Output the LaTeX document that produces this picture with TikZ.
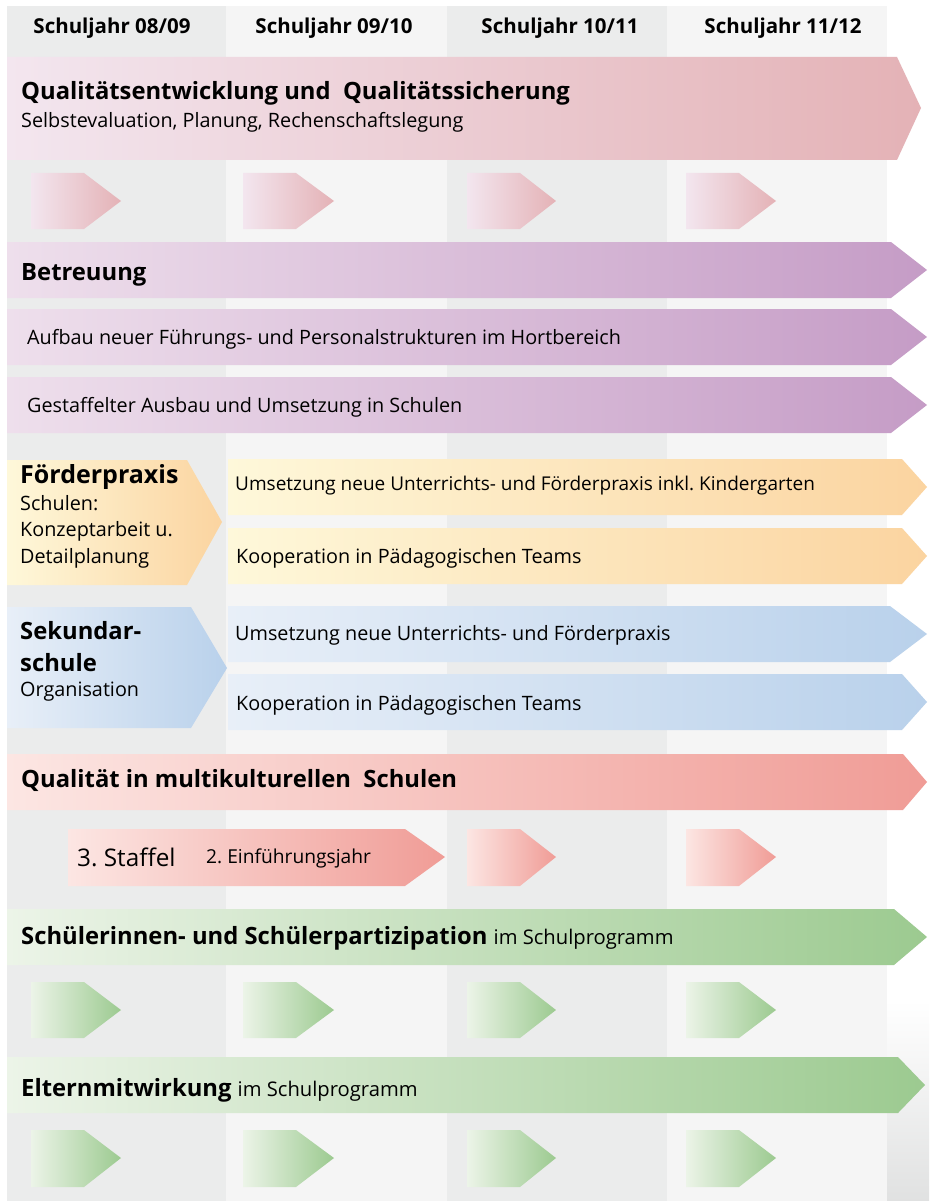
\documentclass[tikz,border=0pt]{standalone}
\usepackage{fontspec}
\setmainfont{Open Sans}
\frenchspacing
\definecolor{colA}{HTML}{EBECEC}
\definecolor{colB}{HTML}{F5F5F5}
\definecolor{pinkL}{HTML}{F3E6EF}
\definecolor{pinkR}{HTML}{E4B2B6}
\definecolor{purL}{HTML}{EEDFEC}
\definecolor{purR}{HTML}{C59CC6}
\definecolor{yelL}{HTML}{FEF8DA}
\definecolor{yelR}{HTML}{FBD4A0}
\definecolor{bluL}{HTML}{E8EFF8}
\definecolor{bluR}{HTML}{B9D1EB}
\definecolor{redL}{HTML}{FCE6E3}
\definecolor{redR}{HTML}{F09C96}
\definecolor{grnL}{HTML}{ECF4E8}
\definecolor{grnR}{HTML}{9CCA90}
% \arw{x1}{y1}{xbody}{xtip}{ymid}{y2}{left}{right}
\newcommand\arw[8]{\shade[left color=#7,right color=#8] (#1,#2) -- (#3,#2) -- (#4,#5) -- (#3,#6) -- (#1,#6) -- cycle;}
\tikzset{
  hdr/.style={font=\fontsize{20.5}{23}\selectfont\bfseries, anchor=center, inner sep=0pt},
  ttl/.style={font=\fontsize{23.8}{26}\selectfont\bfseries, anchor=west, inner sep=0pt},
  txt/.style={font=\fontsize{19.8}{22}\selectfont, anchor=west, inner sep=0pt},
}
\newcommand\reg{\mdseries\fontsize{20.2}{22}\selectfont}
\begin{document}
\begin{tikzpicture}[x=1pt,y=-1pt]
\useasboundingbox (0,0) rectangle (929,1201);
\fill[white] (0,0) rectangle (929,1201);
% columns
\fill[colA] (7,6) rectangle (226,1201);
\fill[colB] (226,6) rectangle (447,1201);
\fill[colA] (447,6) rectangle (667,1201);
\fill[colB] (667,6) rectangle (887,1201);
\shade[top color=white,bottom color=colA!90!gray] (887,1000) rectangle (929,1201);
% headers
\node[hdr] (h1) at (112,28) {Schuljahr 08/09};
\node[hdr] (h2) at (334,28) {Schuljahr 09/10};
\node[hdr] (h3) at (560,28) {Schuljahr 10/11};
\node[hdr] (h4) at (783,28) {Schuljahr 11/12};
% row 1 pink
\arw{7}{57}{897}{921}{108}{160}{pinkL}{pinkR}
\node[ttl] (q1) at (21,93) {Qualitätsentwicklung und\ \ Qualitätssicherung};
\node[txt] (q1s) at (21,122) {Selbstevaluation, Planung, Rechenschaftslegung};
\arw{31}{173}{84}{121}{201}{229}{pinkL}{pinkR}
\arw{243}{173}{296}{334}{201}{229}{pinkL}{pinkR}
\arw{467}{173}{520}{556}{201}{229}{pinkL}{pinkR}
\arw{686}{173}{739}{776}{201}{229}{pinkL}{pinkR}
% purple
\arw{7}{242}{891}{927}{270}{298}{purL}{purR}
\arw{7}{309}{891}{927}{337}{365}{purL}{purR}
\arw{7}{377}{891}{927}{405}{433}{purL}{purR}
\node[ttl] (b1) at (21,275) {Betreuung};
\node[txt] (b2) at (27,339) {Aufbau neuer Führungs- und Personalstrukturen im Hortbereich};
\node[txt] (b3) at (27,407) {Gestaffelter Ausbau und Umsetzung in Schulen};
% yellow
\arw{7}{460}{187}{222}{522}{585}{yelL}{yelR}
\arw{228}{459}{902}{927}{487}{515}{yelL}{yelR}
\arw{228}{528}{902}{927}{556}{584}{yelL}{yelR}
\node[ttl,font=\fontsize{25}{27}\selectfont\bfseries] (f0) at (20,477) {Förderpraxis};
\node[txt] (f1) at (20,503) {Schulen:};
\node[txt] (f2) at (20,531) {Konzeptarbeit u.};
\node[txt] (f3) at (20,558) {Detailplanung};
\node[txt,font=\fontsize{19}{22}\selectfont] (f4) at (235,486) {Umsetzung neue Unterrichts- und Förderpraxis inkl. Kindergarten};
\node[txt] (f5) at (236,558) {Kooperation in Pädagogischen Teams};
% blue
\arw{7}{607}{191}{227}{668}{728}{bluL}{bluR}
\arw{228}{606}{890}{927}{634}{662}{bluL}{bluR}
\arw{228}{674}{902}{927}{702}{730}{bluL}{bluR}
\node[ttl] (s0) at (20,631) {Sekundar-};
\node[ttl] (s1) at (20,663) {schule};
\node[txt] (s2) at (20,692) {Organisation};
\node[txt] (s3) at (235,635) {Umsetzung neue Unterrichts- und Förderpraxis};
\node[txt] (s4) at (236,705) {Kooperation in Pädagogischen Teams};
% red
\arw{7}{754}{903}{927}{782}{810}{redL}{redR}
\node[ttl] (m0) at (21,780) {Qualität in multikulturellen\ \ Schulen};
\arw{68}{829}{405}{445}{857}{886}{redL}{redR}
\node[font=\fontsize{24.3}{26}\selectfont, anchor=west, inner sep=0pt] (m1) at (77,857) {3. Staffel};
\node[font=\fontsize{19.2}{21}\selectfont, anchor=west, inner sep=0pt] (m2) at (206,858) {2. Einführungsjahr};
\arw{467}{829}{520}{556}{857}{886}{redL}{redR}
\arw{686}{829}{739}{776}{857}{886}{redL}{redR}
% green
\arw{7}{909}{894}{927}{937}{965}{grnL}{grnR}
\node[ttl] (g0) at (21,938) {Schülerinnen- und Schülerpartizipation \reg im Schulprogramm};
\arw{31}{982}{84}{121}{1010}{1038}{grnL}{grnR}
\arw{243}{982}{296}{334}{1010}{1038}{grnL}{grnR}
\arw{467}{982}{520}{556}{1010}{1038}{grnL}{grnR}
\arw{686}{982}{739}{776}{1010}{1038}{grnL}{grnR}
\arw{7}{1057}{898}{925}{1085}{1113}{grnL}{grnR}
\node[ttl] (g1) at (21,1090) {Elternmitwirkung \reg im Schulprogramm};
\arw{31}{1130}{84}{121}{1158}{1187}{grnL}{grnR}
\arw{243}{1130}{296}{334}{1158}{1187}{grnL}{grnR}
\arw{467}{1130}{520}{556}{1158}{1187}{grnL}{grnR}
\arw{686}{1130}{739}{776}{1158}{1187}{grnL}{grnR}
\end{tikzpicture}
\end{document}
